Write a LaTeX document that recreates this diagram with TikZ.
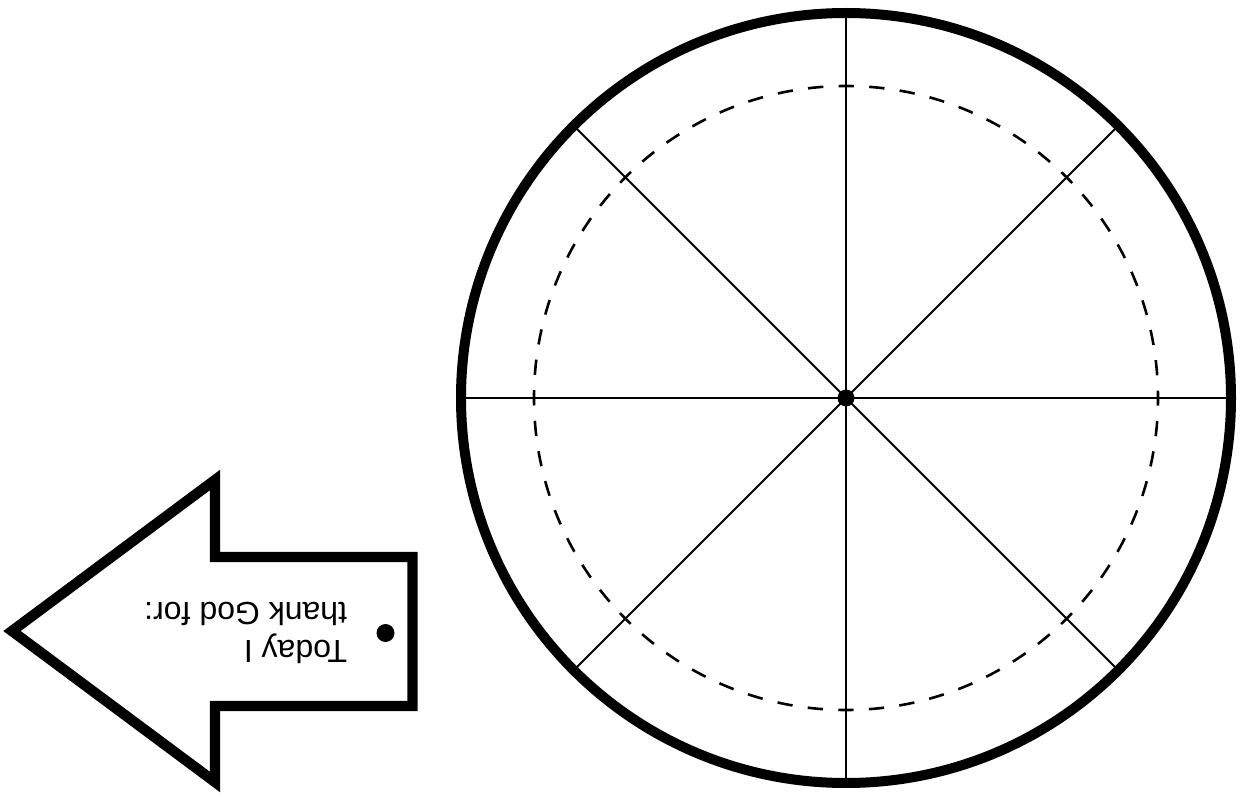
\documentclass[tikz,border=0pt]{standalone}
\usepackage{fontspec}
\setmainfont{Liberation Sans}
\usetikzlibrary{calc}
\begin{document}
\begin{tikzpicture}[x=0.5pt,y=-0.5pt,
  rim/.style={line width=5pt,draw=black},
  spoke/.style={line width=1pt,draw=black},
  guide/.style={line width=1.3pt,draw=black,dash pattern=on 7.66pt off 7.66pt,dash phase=3.83pt},
  arrowtag/.style={line width=5.2pt,draw=black,line join=miter},
  hub/.style={fill=black},
  tagtext/.style={font=\fontsize{16pt}{18.8pt}\selectfont,align=left,rotate=180,anchor=north west,inner sep=0pt}]
\useasboundingbox (0,0) rectangle (1244,797);
% wheel
\coordinate (c) at (846,398);
\foreach \a in {0,45,...,315}{
  \coordinate (r\a) at ($(c)+(\a:385)$);
}
\foreach \a in {0,45,...,315}{
  \draw[spoke] (c) -- (r\a);
}
\draw[guide] (c) circle (312);
\draw[rim] (c) circle (385);
\fill[hub] (c) circle (8.5);
% arrow tag
\coordinate (tip) at (12,631);
\coordinate (ht) at (215,480);
\coordinate (st) at (215,557);
\coordinate (et) at (412.5,557);
\coordinate (eb) at (412.5,706);
\coordinate (sb) at (215,706);
\coordinate (hb) at (215,782);
\draw[arrowtag] (tip) -- (ht) -- (st) -- (et) -- (eb) -- (sb) -- (hb) -- cycle;
\coordinate (hole) at (385.5,633);
\fill[hub] (hole) circle (9);
\node[tagtext] (txt) at (347.5,664) {Today I\\thank God for:};
\end{tikzpicture}
\end{document}
